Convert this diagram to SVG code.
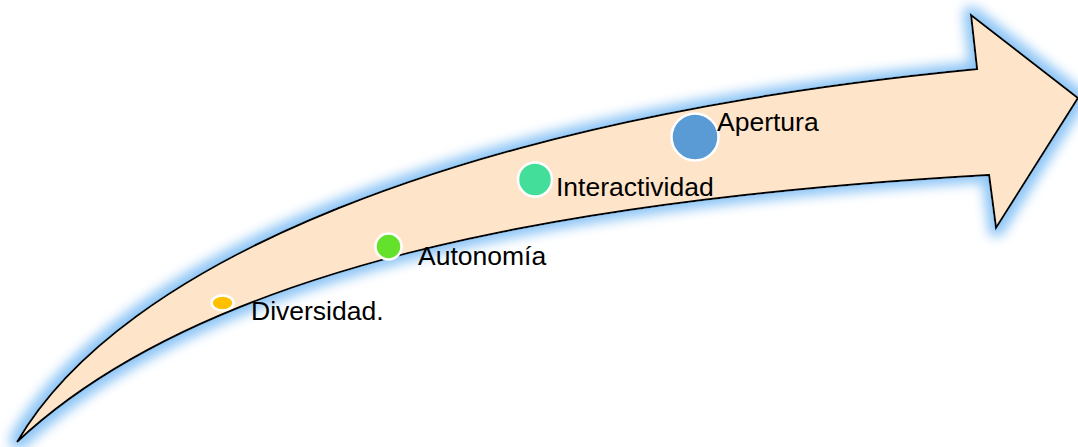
<svg xmlns="http://www.w3.org/2000/svg" width="1078" height="447" viewBox="0 0 1078 447">
<style>
.lbl{font-family:"Liberation Sans",Arial,sans-serif;font-size:26.5px;fill:#000}
.dot{stroke:#fff;stroke-width:2.5}
</style>
<defs>
<filter id="glow" x="-10%" y="-20%" width="120%" height="140%">
<feMorphology in="SourceAlpha" operator="dilate" radius="6" result="d"/>
<feGaussianBlur in="d" stdDeviation="6" result="b"/>
<feFlood flood-color="#8FC6F6"/>
<feComposite in2="b" operator="in" result="g"/>
<feMerge><feMergeNode in="g"/><feMergeNode in="SourceGraphic"/></feMerge>
</filter>
</defs>
<g id="arrow">
<path d="M17,442 C200,270 550,200 989,175 L996,228 L1078,98 L971,15 L977,69 C450,120 120,265 17,442 Z" fill="#FEE5CA" stroke="#000" stroke-width="2" stroke-linejoin="miter" filter="url(#glow)"/>
</g>
<g id="connectors"></g>
<g id="n-diversidad">
<ellipse class="dot" cx="222.5" cy="303" rx="11" ry="7.5" fill="#FFC000"/>
<text class="lbl" x="251" y="320">Diversidad.</text>
</g>
<g id="n-autonomia">
<circle class="dot" cx="388.5" cy="246.5" r="13" fill="#64E12A"/>
<text class="lbl" x="418" y="265">Autonomía</text>
</g>
<g id="n-interactividad">
<circle class="dot" cx="535" cy="179.5" r="17" fill="#43DF9A"/>
<text class="lbl" x="556" y="196">Interactividad</text>
</g>
<g id="n-apertura">
<circle class="dot" cx="695" cy="137" r="23.5" fill="#5B9BD5"/>
<text class="lbl" x="717" y="131">Apertura</text>
</g>
</svg>
